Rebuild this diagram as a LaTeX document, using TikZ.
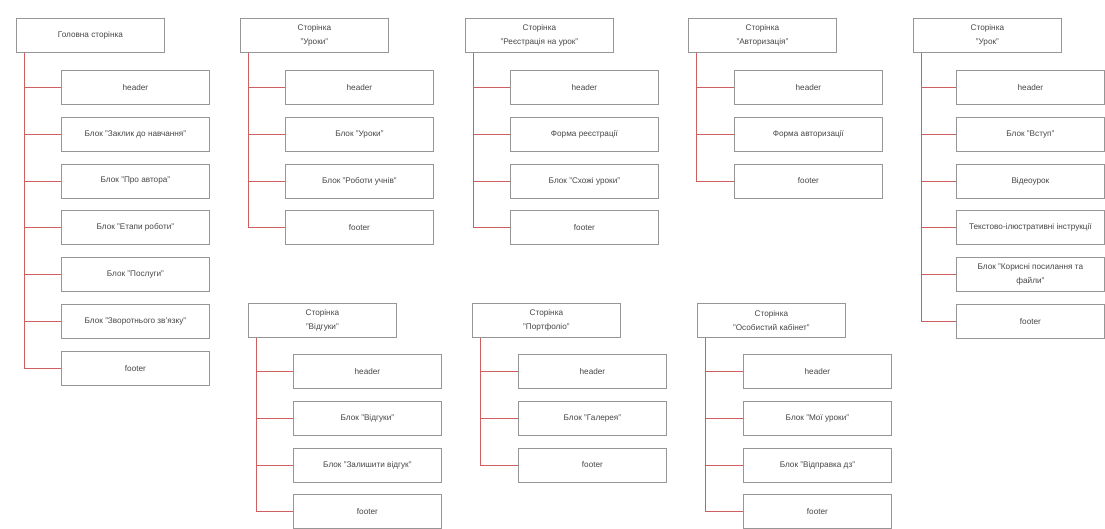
\documentclass[tikz,border=0pt]{standalone}
\usepackage{fontspec}
\setmainfont{Liberation Sans}
\usetikzlibrary{positioning}

\definecolor{boxline}{RGB}{150,150,150}
\definecolor{linkred}{RGB}{205,95,95}
\definecolor{labelgray}{RGB}{70,70,70}

\tikzset{
  page/.style={draw=boxline, line width=0.8pt, anchor=north west,
    minimum width=148pt, minimum height=34pt, align=center,
    font=\fontsize{8.2}{14}\selectfont, text=labelgray, inner sep=2pt},
  part/.style={page},
  link/.style={draw=linkred, line width=0.8pt}
}

\begin{document}
\begin{tikzpicture}[x=1pt, y=-1pt]

  \useasboundingbox (0,0) rectangle (1105,528);

  % -- Головна сторінка --
  \node[page] (home) at (16,18) {Головна сторінка};
  \foreach \t [count=\i] in {header, Блок "Заклик до навчання", Блок "Про автора",
      Блок "Етапи роботи", Блок "Послуги", Блок "Зворотнього зв'язку", footer}
    \node[part] (home\i) at (61,{70+46.8*(\i-1)}) {\t};
  \draw[link] ([xshift=8pt]home.south west) |- (home7.west);
  \foreach \i in {1,...,6}
    \draw[link] ([xshift=8pt]home.south west |- home\i.west) -- (home\i.west);

  % -- Сторінка "Уроки" --
  \node[page] (lessons) at (240,18) {Сторінка\\"Уроки"};
  \foreach \t [count=\i] in {header, Блок "Уроки", Блок "Роботи учнів", footer}
    \node[part] (lessons\i) at (285,{70+46.8*(\i-1)}) {\t};
  \draw[link] ([xshift=8pt]lessons.south west) |- (lessons4.west);
  \foreach \i in {1,...,3}
    \draw[link] ([xshift=8pt]lessons.south west |- lessons\i.west) -- (lessons\i.west);

  % -- Сторінка "Реєстрація на урок" --
  \node[page] (signup) at (465,18) {Сторінка\\"Реєстрація на урок"};
  \foreach \t [count=\i] in {header, Форма реєстрації, Блок "Схожі уроки", footer}
    \node[part] (signup\i) at (510,{70+46.8*(\i-1)}) {\t};
  \draw[link] ([xshift=8pt]signup.south west) |- (signup4.west);
  \foreach \i in {1,...,3}
    \draw[link] ([xshift=8pt]signup.south west |- signup\i.west) -- (signup\i.west);

  % -- Сторінка "Авторизація" --
  \node[page] (login) at (688,18) {Сторінка\\"Авторизація"};
  \foreach \t [count=\i] in {header, Форма авторизації, footer}
    \node[part] (login\i) at (734,{70+46.8*(\i-1)}) {\t};
  \draw[link] ([xshift=8pt]login.south west) |- (login3.west);
  \foreach \i in {1,...,2}
    \draw[link] ([xshift=8pt]login.south west |- login\i.west) -- (login\i.west);

  % -- Сторінка "Урок" --
  \node[page] (lesson) at (913,18) {Сторінка\\"Урок"};
  \foreach \t [count=\i] in {header, Блок "Вступ", Відеоурок,
      Текстово-ілюстративні інструкції, Блок "Корисні посилання та\\файли", footer}
    \node[part] (lesson\i) at (956,{70+46.8*(\i-1)}) {\t};
  \draw[link] ([xshift=8pt]lesson.south west) |- (lesson6.west);
  \foreach \i in {1,...,5}
    \draw[link] ([xshift=8pt]lesson.south west |- lesson\i.west) -- (lesson\i.west);

  % -- Сторінка "Відгуки" --
  \node[page] (reviews) at (248,303) {Сторінка\\"Відгуки"};
  \foreach \t [count=\i] in {header, Блок "Відгуки", Блок "Залишити відгук", footer}
    \node[part] (reviews\i) at (293,{354+46.8*(\i-1)}) {\t};
  \draw[link] ([xshift=8pt]reviews.south west) |- (reviews4.west);
  \foreach \i in {1,...,3}
    \draw[link] ([xshift=8pt]reviews.south west |- reviews\i.west) -- (reviews\i.west);

  % -- Сторінка "Портфоліо" --
  \node[page] (folio) at (472,303) {Сторінка\\"Портфоліо"};
  \foreach \t [count=\i] in {header, Блок "Галерея", footer}
    \node[part] (folio\i) at (518,{354+46.8*(\i-1)}) {\t};
  \draw[link] ([xshift=8pt]folio.south west) |- (folio3.west);
  \foreach \i in {1,...,2}
    \draw[link] ([xshift=8pt]folio.south west |- folio\i.west) -- (folio\i.west);

  % -- Сторінка "Особистий кабінет" --
  \node[page] (cabinet) at (697,303) {Сторінка\\"Особистий кабінет"};
  \foreach \t [count=\i] in {header, Блок "Мої уроки", Блок "Відправка дз", footer}
    \node[part] (cabinet\i) at (743,{354+46.8*(\i-1)}) {\t};
  \draw[link] ([xshift=8pt]cabinet.south west) |- (cabinet4.west);
  \foreach \i in {1,...,3}
    \draw[link] ([xshift=8pt]cabinet.south west |- cabinet\i.west) -- (cabinet\i.west);

\end{tikzpicture}
\end{document}
